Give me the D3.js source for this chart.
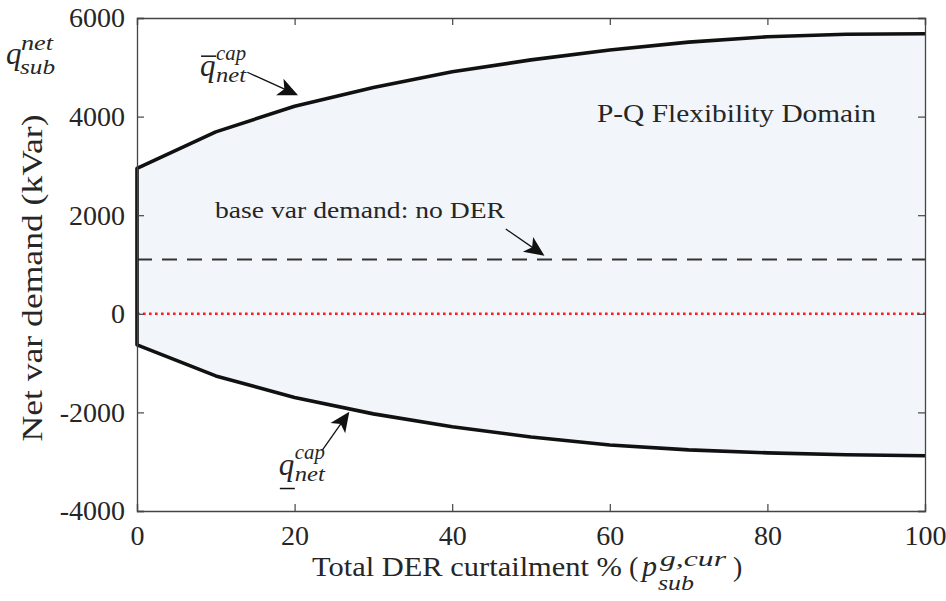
<!DOCTYPE html>
<html lang="en">
<head>
<meta charset="utf-8">
<title>P-Q Flexibility Domain</title>
<script src="https://d3js.org/d3.v7.min.js"></script>
<style>
    body { margin: 0; background: #fff; }
    svg { display: block; }
    text { font-family: "Liberation Serif", "DejaVu Serif", serif; fill: #262626; }
    .tick text { font-size: 28px; }
    .tick line { stroke: #444; }
    .domain { stroke: #444; }
</style>
</head>
<body>
<svg id="chart" width="946" height="601"></svg>
<script>
    // curtailment % (x) and flexibility bounds (kVar)
    const curtail = [0, 10, 20, 30, 40, 50, 60, 70, 80, 90, 100];
    const upperCap = [2950, 3690, 4210, 4590, 4910, 5150, 5350, 5510, 5620, 5670, 5680];
    const lowerCap = [-630, -1260, -1700, -2030, -2290, -2500, -2660, -2760, -2820, -2860, -2880];
    const baseDemand = 1100;
    const xTicks = [0, 20, 40, 60, 80, 100];
    const yTicks = [-4000, -2000, 0, 2000, 4000, 6000];

    const width = 946, height = 601;
    const margin = {top: 18, right: 21, bottom: 90, left: 137};
    const svg = d3.select('#chart');

    const x = d3.scaleLinear().domain([0, 100]).range([margin.left, width - margin.right]);
    const y = d3.scaleLinear().domain([-4000, 6000]).range([height - margin.bottom, margin.top]);

    const upper = curtail.map((c, i) => [c, upperCap[i]]);
    const lower = curtail.map((c, i) => [c, lowerCap[i]]);

    // shaded domain
    const area = d3.area()
        .x(d => x(d[0]))
        .y0((d, i) => y(lowerCap[i]))
        .y1(d => y(d[1]));
    svg.append('path')
        .datum(upper)
        .attr('d', area)
        .attr('fill', '#f2f6fb');

    // reference lines
    svg.append('line')
        .attr('x1', x(0)).attr('x2', x(100))
        .attr('y1', y(baseDemand)).attr('y2', y(baseDemand))
        .attr('stroke', '#333').attr('stroke-width', 2)
        .attr('stroke-dasharray', '15,10');
    svg.append('line')
        .attr('x1', x(0)).attr('x2', x(100))
        .attr('y1', y(0)).attr('y2', y(0))
        .attr('stroke', '#ff1a1a').attr('stroke-width', 2.6)
        .attr('stroke-dasharray', '2.6,3.4');

    // boundary: lower curve reversed + upper curve, joined at x = 0
    const boundary = lower.slice().reverse().concat(upper);
    const line = d3.line().x(d => x(d[0])).y(d => y(d[1]));
    svg.append('path')
        .datum(boundary)
        .attr('d', line)
        .attr('fill', 'none')
        .attr('stroke', '#111')
        .attr('stroke-width', 3.6)
        .attr('stroke-linejoin', 'round');

    // axes (box with inward ticks)
    const fmt = d => String(d); // plain hyphen for negatives
    svg.append('g')
        .attr('transform', `translate(0,${height - margin.bottom})`)
        .call(d3.axisBottom(x).tickValues(xTicks).tickSize(-7).tickPadding(12).tickFormat(fmt))
        .call(g => g.selectAll('.tick text').attr('dy', '0.8em'));
    svg.append('g')
        .attr('transform', `translate(0,${margin.top})`)
        .call(d3.axisTop(x).tickValues(xTicks).tickSize(-7).tickFormat(''));
    svg.append('g')
        .attr('transform', `translate(${margin.left},0)`)
        .call(d3.axisLeft(y).tickValues(yTicks).tickSize(-7).tickPadding(12).tickFormat(fmt));
    svg.append('g')
        .attr('transform', `translate(${width - margin.right},0)`)
        .call(d3.axisRight(y).tickValues(yTicks).tickSize(-7).tickFormat(''));
    svg.selectAll('.domain').attr('stroke-width', 1.3);
    svg.selectAll('.tick line').attr('stroke-width', 1.2);

    // stretched serif text, to get the wide look of the original face
    function label(xp, yp, str, size, len, italic) {
        const t = svg.append('text')
            .attr('x', xp).attr('y', yp)
            .style('font-size', size + 'px')
            .text(str);
        if (len) t.attr('textLength', len).attr('lengthAdjust', 'spacingAndGlyphs');
        if (italic) t.attr('font-style', 'italic');
        return t;
    }

    // x axis label
    label(312, 576, 'Total DER curtailment %', 28, 310);
    label(629, 576, '(', 28, 0);
    label(642, 576, 'p', 30, 0, true);
    label(660, 566, 'g,cur', 21, 66, true);
    label(658, 590, 'sub', 21, 36, true);
    label(733, 576, ')', 28, 0);

    // y axis label
    svg.append('text')
        .attr('transform', `translate(42,${278}) rotate(-90)`)
        .attr('text-anchor', 'middle')
        .style('font-size', '29px')
        .attr('textLength', 327).attr('lengthAdjust', 'spacingAndGlyphs')
        .text('Net var demand (kVar)');

    // q_sub^net
    label(6, 64, 'q', 31, 0, true);
    label(21, 50, 'net', 21, 32, true);
    label(20, 74, 'sub', 21, 35, true);

    // annotations
    const annotations = [
        {from: [14, 4900], to: [20.2, 4450]},
        {from: [46.8, 1720], to: [51.5, 1200]},
        {from: [23.5, -2770], to: [26.8, -2020]}
    ];
    svg.append('defs').append('marker')
        .attr('id', 'arrow')
        .attr('viewBox', '0 0 10 10')
        .attr('refX', 9).attr('refY', 5)
        .attr('markerWidth', 20).attr('markerHeight', 20)
        .attr('markerUnits', 'userSpaceOnUse')
        .attr('orient', 'auto')
        .append('path')
        .attr('d', 'M0,0.5 L10,5 L0,9.5 L2.5,5 Z')
        .attr('fill', '#111');
    svg.selectAll('.ann')
        .data(annotations)
        .join('line')
        .attr('class', 'ann')
        .attr('x1', d => x(d.from[0])).attr('y1', d => y(d.from[1]))
        .attr('x2', d => x(d.to[0])).attr('y2', d => y(d.to[1]))
        .attr('stroke', '#111').attr('stroke-width', 1.3)
        .attr('marker-end', 'url(#arrow)');

    // q-bar / q-underline cap net labels
    function capLabel(xv, yv, barOffset) {
        const bx = x(xv), by = y(yv);
        label(bx, by, 'q', 31, 0, true);
        label(bx + 16, by - 16, 'cap', 21, 30, true);
        label(bx + 16, by + 6, 'net', 21, 30, true);
        svg.append('line')
            .attr('x1', bx + 1).attr('x2', bx + 16)
            .attr('y1', by + barOffset).attr('y2', by + barOffset)
            .attr('stroke', '#111').attr('stroke-width', 1.5);
    }
    capLabel(8.0, 4820, -20);
    capLabel(18.0, -3260, 14);

    label(597, y(3900), 'P-Q Flexibility Domain', 26, 279);
    label(215, y(1950), 'base var demand: no DER', 23, 290);
</script>
</body>
</html>
